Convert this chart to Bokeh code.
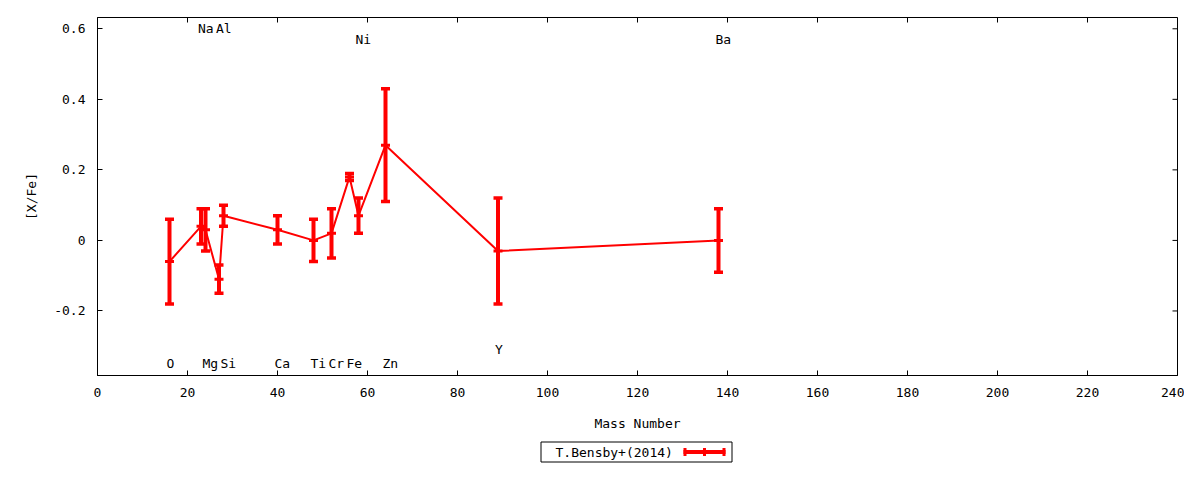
import math
from bokeh.plotting import figure
from bokeh.layouts import column
from bokeh.models import Range1d, FixedTicker, ColumnDataSource
from bokeh.core.properties import value
from bokeh.embed import file_html
from bokeh.resources import INLINE

# ---- data ----
elements = ["O", "Na", "Mg", "Al", "Si", "Ca", "Ti", "Cr", "Fe", "Ni", "Zn", "Y", "Ba"]
mass = [16, 23, 24, 27, 28, 40, 48, 52, 56, 58, 64, 89, 138]
xfe = [-0.06, 0.04, 0.03, -0.11, 0.07, 0.03, 0.00, 0.02, 0.18, 0.07, 0.27, -0.03, 0.00]
err = [0.12, 0.05, 0.06, 0.04, 0.03, 0.04, 0.06, 0.07, 0.01, 0.05, 0.16, 0.15, 0.09]
label_y = [-0.35, 0.60, -0.35, 0.60, -0.35, -0.35, -0.35, -0.35, -0.35, 0.57, -0.35, -0.31, 0.57]
x_ticks = [0, 20, 40, 60, 80, 100, 120, 140, 160, 180, 200, 220, 240]
y_ticks = [-0.2, 0.0, 0.2, 0.4, 0.6]
y_tick_labels = ["-0.2", "0", "0.2", "0.4", "0.6"]
legend_label = "T.Bensby+(2014)"
X_MIN, X_MAX = 0, 240
Y_MIN, Y_MAX = -0.383, 0.632

FONT = "DejaVu Sans Mono"
FS = "13px"
RED = "#ff0000"
W = 1184
LEFT, RIGHT = 97, 7

lo = [v - e for v, e in zip(xfe, err)]
hi = [v + e for v, e in zip(xfe, err)]
src = ColumnDataSource(dict(mass=mass, xfe=xfe, lo=lo, hi=hi))
lab = ColumnDataSource(dict(x=mass, y=label_y, t=elements))

p = figure(width=W, height=440, output_backend="svg", toolbar_location=None,
           x_range=Range1d(X_MIN, X_MAX), y_range=Range1d(Y_MIN, Y_MAX),
           min_border_left=LEFT, min_border_right=RIGHT, min_border_top=17, min_border_bottom=65)
p.background_fill_color = "white"
p.border_fill_color = "white"
p.outline_line_color = "black"
p.outline_line_width = 1
p.xgrid.visible = False
p.ygrid.visible = False

def style_axis(ax, ticks):
    ax.ticker = FixedTicker(ticks=ticks)
    ax.major_tick_in = 5
    ax.major_tick_out = 0
    ax.minor_tick_line_color = None
    ax.axis_line_color = "black"
    ax.major_tick_line_color = "black"
    ax.major_label_text_font = FONT
    ax.major_label_text_font_size = FS
    ax.major_label_text_color = "black"
    ax.axis_label_text_font = FONT
    ax.axis_label_text_font_size = FS
    ax.axis_label_text_font_style = "normal"
    ax.axis_label_text_color = "black"

xa = p.xaxis[0]
style_axis(xa, x_ticks)
xa.major_label_standoff = 12
xa.axis_label = "Mass Number"
xa.axis_label_standoff = 16

ya = p.yaxis[0]
style_axis(ya, y_ticks)
ya.major_label_overrides = {t: s for t, s in zip(y_ticks, y_tick_labels)}
ya.major_label_standoff = 12
ya.axis_label = "[X/Fe]"
ya.axis_label_standoff = 12

# mirrored inward ticks on top and right edges (outer half of each dash is clipped by the frame)
p.scatter(x=x_ticks, y=[Y_MAX] * len(x_ticks), marker="dash", angle=math.pi / 2,
          size=10, line_color="black", line_width=1)
p.scatter(x=[X_MAX] * len(y_ticks), y=y_ticks, marker="dash",
          size=10, line_color="black", line_width=1)

# connecting line
p.line("mass", "xfe", source=src, line_color=RED, line_width=2)
# error bars
p.segment(x0="mass", y0="lo", x1="mass", y1="hi", source=src, line_color=RED, line_width=4)
p.scatter("mass", "lo", source=src, marker="dash", size=9, line_color=RED, line_width=3.5)
p.scatter("mass", "hi", source=src, marker="dash", size=9, line_color=RED, line_width=3.5)
p.scatter("mass", "xfe", source=src, marker="cross", size=9, line_color=RED, line_width=3)

# element labels
p.text("x", "y", text="t", source=lab, text_font=value(FONT), text_font_size=FS,
       text_color="black", text_align="left", text_baseline="middle", x_offset=-3)

# ---- key (gnuplot style: title, then sample) in a strip below the plot ----
# the strip's frame is aligned with the main frame, so its x range is in page pixels
k = figure(width=W, height=24, output_backend="svg", toolbar_location=None,
           x_range=Range1d(LEFT, W - RIGHT), y_range=Range1d(0, 24),
           x_axis_location=None, y_axis_location=None,
           min_border_left=LEFT, min_border_right=RIGHT,
           min_border_top=0, min_border_bottom=0)
k.outline_line_color = None
k.xgrid.visible = False
k.ygrid.visible = False
k.background_fill_color = "white"
k.border_fill_color = "white"
k.quad(left=[540.5], right=[731.5], bottom=[2.5], top=[22.5],
       fill_alpha=0, line_color="black", line_width=1)
k.text(x=[555], y=[12.5], text=[legend_label], text_font=value(FONT), text_font_size=FS,
       text_color="black", text_align="left", text_baseline="middle")
k.segment(x0=[683], y0=[12.5], x1=[725], y1=[12.5], line_color=RED, line_width=4)
k.segment(x0=[684.5, 723.5, 704], y0=[8.5] * 3, x1=[684.5, 723.5, 704], y1=[16.5] * 3,
          line_color=RED, line_width=3)

layout = column(p, k, spacing=0)
open("out.html", "w").write(file_html(layout, INLINE))
